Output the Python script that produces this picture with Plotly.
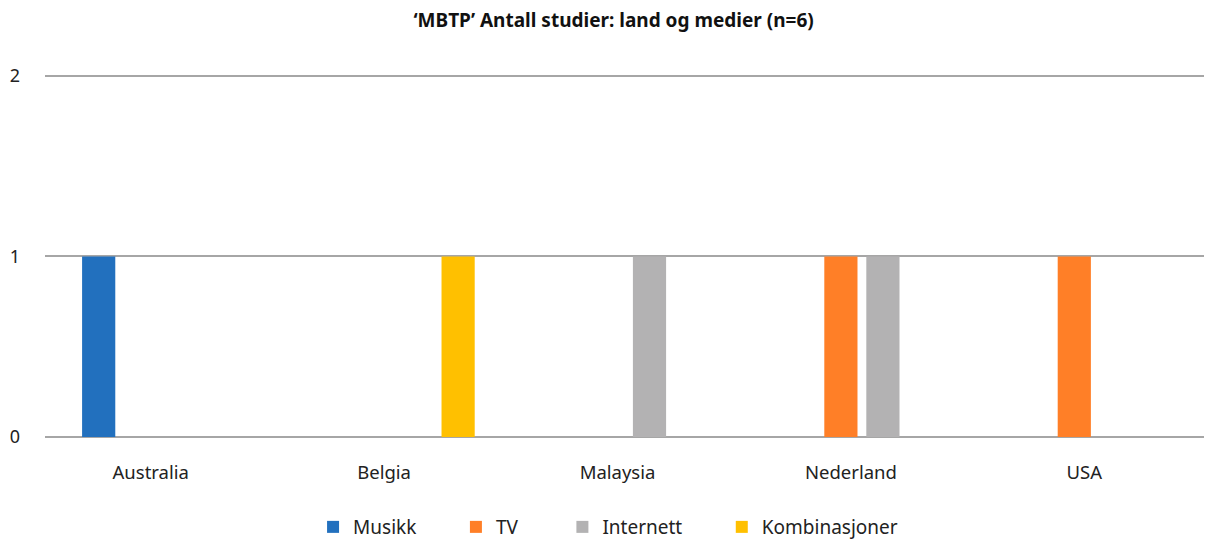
import plotly.graph_objects as go

categories = ["Australia", "Belgia", "Malaysia", "Nederland", "USA"]
series_names = ["Musikk", "TV", "Internett", "Kombinasjoner"]
musikk = [1, None, None, None, None]
tv = [None, None, None, 1, 1]
internett = [None, None, 1, 1, None]
kombinasjoner = [None, 1, None, None, None]
series_values = [musikk, tv, internett, kombinasjoner]
colors = ["#2270BE", "#FF7F27", "#B3B2B3", "#FFC000"]
y_ticks = [0, 1, 2]

FONT = "Noto Sans"
legend_pad = [7, 8, 7, 0]  # non-breaking spaces after each legend entry

fig = go.Figure()
for name, vals, col, pad in zip(series_names, series_values, colors, legend_pad):
    fig.add_trace(go.Bar(
        x=categories, y=vals, name=name + "\u00a0" * pad,
        marker=dict(color=col, line=dict(width=0)),
    ))

fig.update_layout(
    width=1204, height=533,
    paper_bgcolor="white", plot_bgcolor="white",
    margin=dict(l=37, r=0, t=66, b=104, autoexpand=False),
    barmode="group", bargap=0.28, bargroupgap=0.21,
    font=dict(family=FONT, size=18, color="#222222"),
    title=dict(text="<b>‘MBTP’ Antall studier: land og medier (n=6)</b>",
               x=0.503, xanchor="center", y=0.977, yanchor="middle",
               font=dict(family=FONT, size=19, color="#111111")),
    showlegend=True,
    legend=dict(orientation="h", x=0.2297, xanchor="left", y=-0.248, yanchor="middle",
                font=dict(family=FONT, size=19, color="#222222"),
                traceorder="normal"),
    xaxis=dict(showgrid=False, showline=False, ticks="", ticklabelstandoff=22,
               ticklabelshift=-11, automargin=False, tickfont=dict(size=18.5)),
    yaxis=dict(range=[0, 2.01], tickvals=y_ticks, showgrid=True, gridcolor="#A6A6A6",
               gridwidth=1.5, zeroline=True, zerolinecolor="#A6A6A6", zerolinewidth=1.5,
               showline=False, ticks="", ticklabelstandoff=24, automargin=False,
               tickfont=dict(size=18)),
)

fig.write_html("out.html")
